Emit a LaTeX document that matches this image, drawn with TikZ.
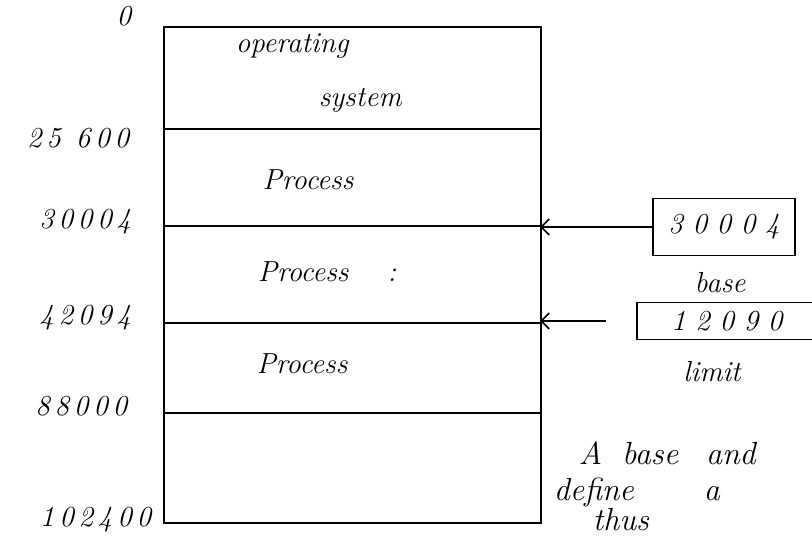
\documentclass[tikz,border=0pt]{standalone}
\usetikzlibrary{arrows.meta}
\begin{document}
\begin{tikzpicture}[x=1pt,y=-1pt,
  line width=1.7pt,
  hand/.style={font=\fontsize{29}{34}\selectfont\itshape, inner sep=0pt},
  note/.style={font=\fontsize{32}{36}\selectfont\itshape, inner sep=0pt, anchor=base west},
  part/.style={draw, minimum width=377pt, inner sep=0pt, anchor=north west},
  reg/.style={draw, hand, inner sep=0pt, minimum height=#1},
  ptr/.style={-{Straight Barb[length=8pt,width=16pt]}}]
  \useasboundingbox (0,0) rectangle (812,538);
  \clip (0,0) rectangle (812,538);

  % memory partitions, top to bottom
  \node[part, minimum height=102pt] (os)   at (163,26)  {};
  \node[part, minimum height=97pt]  (p1)   at (163,128) {};
  \node[part, minimum height=97pt]  (p2)   at (163,225) {};
  \node[part, minimum height=90pt]  (p3)   at (163,322) {};
  \node[part, minimum height=110pt] (free) at (163,412) {};

  % contents
  \node[hand, anchor=west] (ostxt1) at (235,46)  {operating};
  \node[hand, anchor=west] (ostxt2) at (318,100) {system};
  \node[hand] (pa) at (308,180) {Process};
  \node[hand, anchor=west] (pb) at (257,272) {Process\quad\ :};
  \node[hand] (pc) at (302,364) {Process};

  % addresses
  \node[hand, anchor=east] (a0) at (132,16)  {0};
  \node[hand, anchor=east] (a1) at (130,138) {2\,5\ \,6\,0\,0};
  \node[hand, anchor=east] (a2) at (132,222) {3\,0\,0\,0\,4};
  \node[hand, anchor=east] (a3) at (132,318) {4\,2\,0\,9\,4};
  \node[hand, anchor=east] (a4) at (128,406) {8\,8\,0\,0\,0};
  \node[hand, anchor=east] (a5) at (152,520) {1\,0\,2\,4\,0\,0};

  % base and limit registers
  \node[reg=57pt, minimum width=142pt] (base) at (724,227) {3\,\,0\,\,0\,\,0\,\,4};
  \node[hand] (basel) at (720,283) {base};
  \node[reg=37pt, minimum width=180pt, anchor=west] (limit) at (636,321) {1\,\,2\,\,0\,\,9\,\,0};
  \node[hand] (limitl) at (712,372) {limit};

  \coordinate (bp) at (540,227);
  \coordinate (ls) at (606,321);
  \coordinate (lp) at (540,321);
  \draw[ptr] (base.west) -- (bp);
  \draw[ptr] (ls) -- (lp);

  % note below the registers
  \node[note] (n1) at (578,464) {A\hspace{20pt}base\hspace{28pt}and};
  \node[note] (n2) at (553,500) {define\hspace{70pt}a};
  \node[note] (n3) at (592,530) {thus};
\end{tikzpicture}
\end{document}
